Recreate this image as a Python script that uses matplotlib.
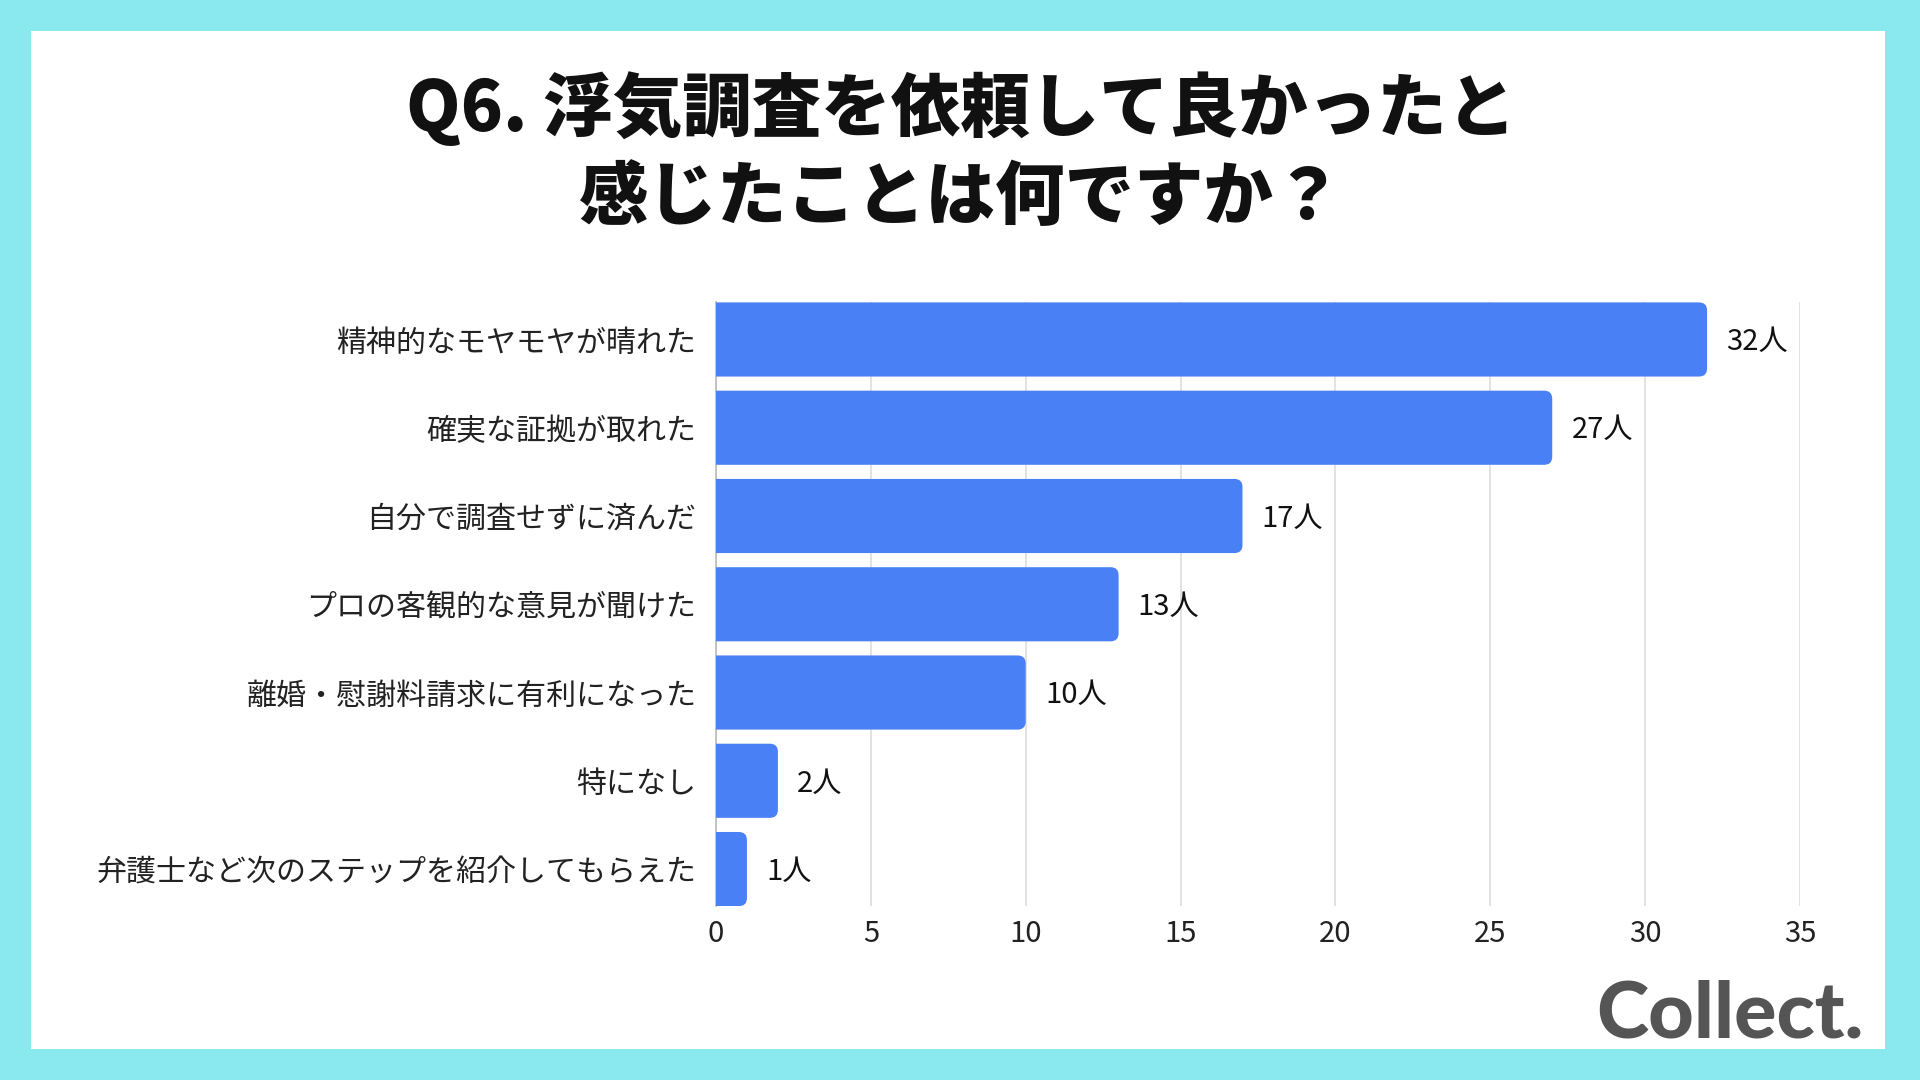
import matplotlib
matplotlib.use('Agg')
import matplotlib.pyplot as plt
from matplotlib.patches import Rectangle, FancyBboxPatch

plt.rcParams['font.family'] = ['Noto Sans CJK JP', 'DejaVu Sans']

# data
categories = [
    "精神的なモヤモヤが晴れた",
    "確実な証拠が取れた",
    "自分で調査せずに済んだ",
    "プロの客観的な意見が聞けた",
    "離婚・慰謝料請求に有利になった",
    "特になし",
    "弁護士など次のステップを紹介してもらえた",
]
counts = [32, 27, 17, 13, 10, 2, 1]
x_ticks = [0, 5, 10, 15, 20, 25, 30, 35]
title = "Q6. 浮気調査を依頼して良かったと\n感じたことは何ですか？"

bar_color = "#4A80F5"
border_color = "#8AE9EE"

fig = plt.figure(figsize=(19.2, 10.8), dpi=100)
fig.patch.set_facecolor(border_color)
fig.patches.append(Rectangle((0.01615, 0.0287), 0.9656, 0.9426, transform=fig.transFigure,
                             facecolor="white", edgecolor="none", zorder=-1))

ax = fig.add_axes([0.3729, 0.161, 0.5646, 0.559])
ax.set_zorder(1)
ax.set_facecolor("none")

ypos = list(range(len(categories)))
bars = ax.barh(ypos, counts, height=0.84, color=bar_color)
ax.set_xlim(0, 35)
ax.set_ylim(len(categories) - 1 + 0.42, -0.42)

# rounded right ends: one rounded patch per bar, its left end pushed past x=0 and clipped
r = 0.26
aspect = (1 / 88.3) / (1 / 30.97)
for b in bars:
    x0, y0, w, h = b.get_x(), b.get_y(), b.get_width(), b.get_height()
    b.set_visible(False)
    ax.add_patch(FancyBboxPatch((x0 - 1, y0), w + 1, h, boxstyle=f"round,pad=0,rounding_size={r}",
                                mutation_aspect=aspect, facecolor=bar_color,
                                edgecolor="none", zorder=3))

for y, v in zip(ypos, counts):
    ax.text(v + 0.62, y + 0.03, f"{v}人", va="center", ha="left", fontsize=21, color="#111111")

ax.set_yticks(ypos)
ax.set_yticklabels(categories, fontsize=21.6, color="#222222")
ax.set_xticks(x_ticks)
ax.set_xticklabels([str(t) for t in x_ticks], fontsize=21, color="#222222")
ax.tick_params(axis="both", length=0)
ax.tick_params(axis="y", pad=14)
ax.tick_params(axis="x", pad=9)

ax.grid(axis="x", color="#dddddd", linewidth=1.2, zorder=0)
ax.set_axisbelow(True)
for s in ["top", "right", "bottom"]:
    ax.spines[s].set_visible(False)
ax.spines["left"].set_color("#bbbbbb")
ax.spines["left"].set_linewidth(1.2)

fig.text(0.5005, 0.859, title, ha="center", va="center", fontsize=50, fontweight=900,
         color="#111111", linespacing=1.3)

fig.text(0.901, 0.060, "Collect.", ha="center", va="center", fontsize=57,
         fontweight=900, family="Lato", color="#555555")

fig.savefig("out.png", dpi=100, facecolor=fig.get_facecolor())
